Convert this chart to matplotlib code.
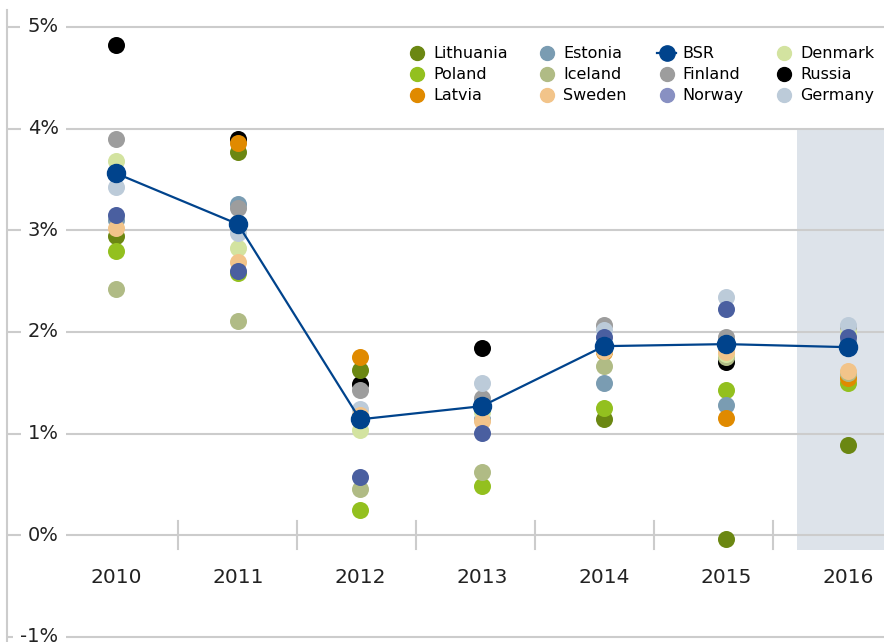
import numpy as np
import matplotlib
matplotlib.use("Agg")
import matplotlib.pyplot as plt
from matplotlib.lines import Line2D

plt.rcParams['font.family'] = ['DejaVu Sans']

years = ['2010', '2011', '2012', '2013', '2014', '2015', '2016']
nan = np.nan

# values in percent
lithuania = [2.94, 3.77, 1.63, nan, 1.14, -0.04, 0.89]
poland = [2.80, 2.58, 0.25, 0.48, 1.25, 1.43, 1.50]
latvia = [nan, 3.86, 1.75, nan, 1.80, 1.15, 1.55]
estonia = [3.10, 3.26, 1.15, 1.14, 1.50, 1.28, 1.90]
iceland = [2.42, 2.11, 0.45, 0.62, 1.66, 1.75, 1.60]
sweden = [3.02, 2.69, 1.18, 1.12, 1.81, 1.80, 1.62]
bsr = [3.56, 3.06, 1.14, 1.27, 1.86, 1.88, 1.85]
finland = [3.90, 3.22, 1.43, 1.35, 2.07, 1.95, 2.05]
norway = [3.15, 2.60, 0.57, 1.01, 1.95, 2.23, 1.95]
denmark = [3.68, 2.83, 1.04, 1.21, 1.85, 1.78, 2.00]
russia = [4.82, 3.90, 1.49, 1.84, nan, 1.70, nan]
germany = [3.43, 2.97, 1.24, 1.50, 2.02, 2.34, 2.07]

countries = {
    'Lithuania': (lithuania, '#6b8712'),
    'Poland': (poland, '#93c01f'),
    'Latvia': (latvia, '#e08a00'),
    'Estonia': (estonia, '#7a9cb2'),
    'Iceland': (iceland, '#b0bb85'),
    'Sweden': (sweden, '#f2c48a'),
    'Finland': (finland, '#9d9d9d'),
    'Norway': (norway, '#4a5fa0'),
    'Denmark': (denmark, '#d3e3a0'),
    'Russia': (russia, '#000000'),
    'Germany': (germany, '#bccbd9'),
}
draw_order = ['Russia', 'Lithuania', 'Poland', 'Estonia', 'Latvia', 'Iceland',
              'Finland', 'Denmark', 'Germany', 'Sweden', 'Norway']
bsr_color = '#00438c'
grid_color = '#cccccc'

fig = plt.figure(figsize=(8.84, 6.42), dpi=100)
ax = fig.add_axes([0.0079, 0.0, 0.9921, 0.985])
x = np.arange(len(years))

ax.set_xlim(-0.893, 6.295)
ax.set_ylim(-1.05, 5.17)

# forecast shading
ax.fill_between([5.58, 6.4], -0.15, 4.0, color='#dde3ea', zorder=0, lw=0)

for v in range(-1, 6):
    ax.axhline(v, color=grid_color, lw=1.5, zorder=1)
    ax.text(-0.47, v, f'{v}%', ha='right', va='center', fontsize=14, color='#222222',
            bbox=dict(facecolor='white', edgecolor='none', pad=5), zorder=2)

seps = 0.508 + 0.9754 * np.arange(6)
for s in seps:
    ax.plot([s, s], [-0.14, 0.14], color=grid_color, lw=1.5, zorder=1)

for i, yr in enumerate(years):
    ax.text(i, -0.42, yr, ha='center', va='center', fontsize=14.5, color='#222222')

for name in draw_order:
    vals, col = countries[name]
    ax.scatter(x, vals, s=150, color=col, zorder=3, linewidths=0)

ax.plot(x, bsr, color=bsr_color, lw=1.6, marker='o', markersize=13, zorder=4)

for sp in ['top', 'right', 'bottom']:
    ax.spines[sp].set_visible(False)
ax.spines['left'].set_color(grid_color)
ax.spines['left'].set_linewidth(1.5)
ax.set_xticks([])
ax.set_yticks([])

legend_colors = dict((k, c) for k, (v, c) in countries.items())
legend_colors['Norway'] = '#8890c2'
order = ['Lithuania', 'Poland', 'Latvia', 'Estonia', 'Iceland', 'Sweden',
         'BSR', 'Finland', 'Norway', 'Denmark', 'Russia', 'Germany']
handles = []
for name in order:
    if name == 'BSR':
        handles.append(Line2D([0], [0], color=bsr_color, lw=1.6, marker='o', markersize=11))
    else:
        handles.append(Line2D([0], [0], color=legend_colors[name], lw=0, marker='o', markersize=10))
ax.legend(handles, order, ncol=4, loc='upper right', bbox_to_anchor=(1.005, 0.965),
          frameon=False, fontsize=11.5, handlelength=1.2, handletextpad=0.4,
          columnspacing=1.9, labelspacing=0.38)

fig.savefig('out.png', dpi=100)
